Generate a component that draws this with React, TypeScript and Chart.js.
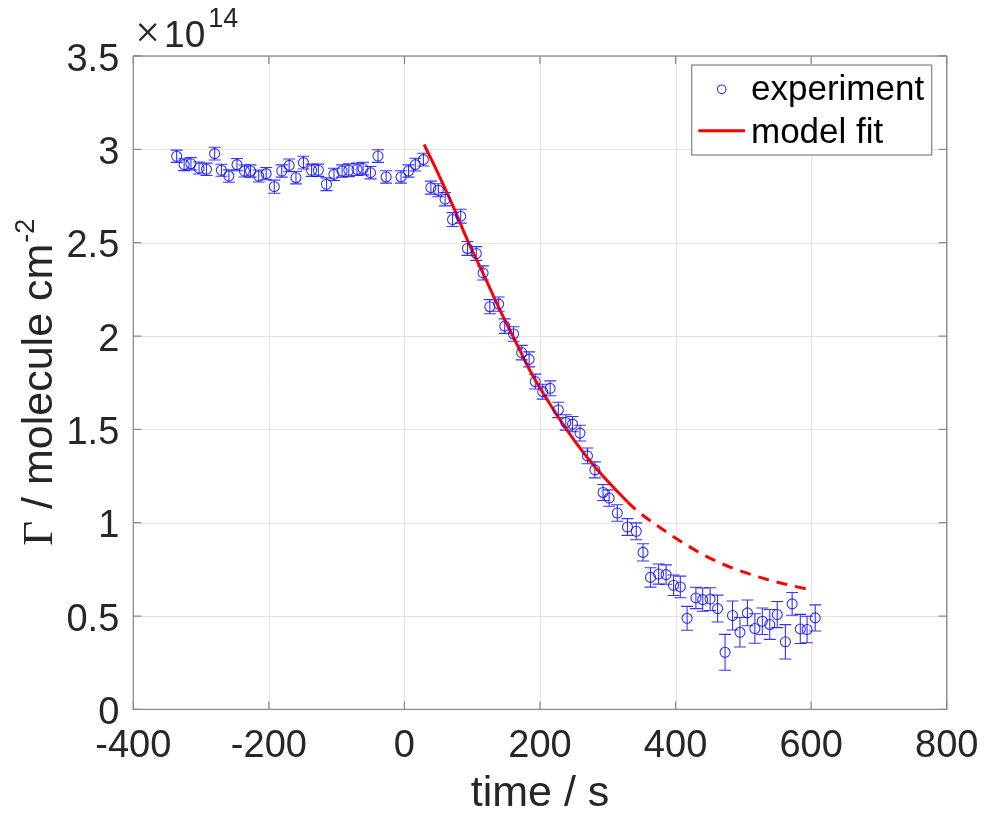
import React, { useEffect, useRef } from "react";
import { Chart, registerables } from "chart.js";

Chart.register(...registerables);

// ---- data ----
const expTime = [
  -336, -325, -315, -303, -292, -280, -270, -259, -247, -236, -227, -215, -204, -192, -181, -170, -160,
  -149, -137, -127, -115, -104, -92, -82, -70, -61, -50, -39, -27, -5, 6, 16, 28,
  39, 50, 60, 71, 83, 93, 106, 116, 126, 139, 148, 161, 173, 184, 193, 204, 215, 227, 238, 248, 259,
  270, 281, 293, 302, 314, 329, 342, 352, 363, 375, 386, 397, 407, 417, 430, 440, 451, 462, 473, 484,
  495, 506, 517, 528, 539, 550, 562, 572, 584, 594, 606,
];
const expValue = [
  2.963, 2.918, 2.923, 2.9, 2.893, 2.977, 2.888, 2.857, 2.918, 2.884, 2.884, 2.857, 2.87, 2.8, 2.884,
  2.914, 2.848, 2.929, 2.888, 2.888, 2.813, 2.866, 2.884, 2.888, 2.893, 2.897, 2.875, 2.964, 2.852,
  2.852, 2.884, 2.918, 2.945,
  2.795, 2.781, 2.733, 2.624, 2.642, 2.469, 2.442, 2.338, 2.157, 2.171, 2.053, 2.011, 1.911, 1.875,
  1.756, 1.702, 1.72, 1.604, 1.537, 1.528, 1.48, 1.358, 1.283, 1.162, 1.132, 1.052, 0.977, 0.954,
  0.841, 0.707, 0.725, 0.722, 0.665, 0.656, 0.488, 0.597, 0.588, 0.591, 0.54, 0.306, 0.503, 0.413,
  0.517, 0.433, 0.472, 0.455, 0.508, 0.362, 0.565, 0.431, 0.428, 0.49,
];
const expError = [
  0.033, 0.032, 0.033, 0.032, 0.033, 0.034, 0.032, 0.033, 0.033, 0.032, 0.033, 0.032, 0.033, 0.035,
  0.033, 0.034, 0.033, 0.034, 0.033, 0.033, 0.034, 0.033, 0.033, 0.034, 0.033, 0.034, 0.033, 0.034,
  0.033, 0.033, 0.033, 0.034, 0.034,
  0.035, 0.035, 0.036, 0.037, 0.037, 0.037, 0.037, 0.038, 0.038, 0.038, 0.039, 0.039, 0.039, 0.04,
  0.04, 0.04, 0.04, 0.041, 0.041, 0.041, 0.042, 0.042, 0.043, 0.043, 0.044, 0.044, 0.045, 0.045,
  0.046, 0.052, 0.054, 0.052, 0.055, 0.058, 0.064, 0.057, 0.062, 0.061, 0.072, 0.096, 0.078, 0.079,
  0.069, 0.079, 0.071, 0.08, 0.07, 0.092, 0.061, 0.078, 0.071, 0.07,
];
const fitTime = [29, 52, 72, 94, 116, 141, 163, 185, 205, 230, 254, 279, 303, 329];
const fitValue = [3.026, 2.853, 2.693, 2.505, 2.336, 2.139, 1.978, 1.817, 1.692, 1.549, 1.424, 1.308, 1.21, 1.112];
const extTime = [329, 342, 397, 414, 439, 466, 488, 538, 598];
const extValue = [1.112, 1.068, 0.925, 0.886, 0.832, 0.784, 0.752, 0.693, 0.641];

const xMin = -400;
const xMax = 800;
const xStep = 200;
const yMin = 0;
const yMax = 3.5;
const yStep = 0.5;
const legendLabels = ["experiment", "model fit"];
const xTitle = "time / s";
const yTitleSymbol = "Γ";
const yTitleText = " / molecule cm";
const yTitleSup = "-2";
const exponentTimes = "×";
const exponentBase = "10";
const exponentPower = "14";

const SANS = '"Liberation Sans", Arial, Helvetica, sans-serif';
const SERIF = '"Liberation Serif", "DejaVu Serif", serif';
const BLUE = "rgba(0,0,255,0.8)";
const RED = "#ff0000";
const AXIS = "#8c8c8c";
const TEXT = "#262626";

const fmt = (v: number) => String(Math.round(v * 100) / 100);

const matlabPlugin = {
  id: "matlabPlugin",
  beforeDatasetsDraw(chart: any) {
    const { ctx, chartArea: a, scales } = chart;
    const x = scales.x;
    const y = scales.y;
    ctx.save();
    // grid
    ctx.strokeStyle = "#e3e3e3";
    ctx.lineWidth = 1;
    x.ticks.forEach((t: any) => {
      const px = Math.round(x.getPixelForValue(t.value)) + 0.5;
      ctx.beginPath();
      ctx.moveTo(px, a.top);
      ctx.lineTo(px, a.bottom);
      ctx.stroke();
    });
    y.ticks.forEach((t: any) => {
      const py = Math.round(y.getPixelForValue(t.value)) + 0.5;
      ctx.beginPath();
      ctx.moveTo(a.left, py);
      ctx.lineTo(a.right, py);
      ctx.stroke();
    });
    // error bars
    ctx.strokeStyle = BLUE;
    ctx.lineWidth = 1.1;
    for (let i = 0; i < expTime.length; i++) {
      const px = x.getPixelForValue(expTime[i]);
      const top = y.getPixelForValue(expValue[i] + expError[i]);
      const bot = y.getPixelForValue(expValue[i] - expError[i]);
      ctx.beginPath();
      ctx.moveTo(px, top);
      ctx.lineTo(px, bot);
      ctx.moveTo(px - 6, top);
      ctx.lineTo(px + 6, top);
      ctx.moveTo(px - 6, bot);
      ctx.lineTo(px + 6, bot);
      ctx.stroke();
    }
    ctx.restore();
  },
  afterDraw(chart: any) {
    const { ctx, chartArea: a, scales } = chart;
    const x = scales.x;
    const y = scales.y;
    ctx.save();
    // box
    ctx.strokeStyle = AXIS;
    ctx.lineWidth = 1.3;
    ctx.strokeRect(a.left, a.top, a.right - a.left, a.bottom - a.top);
    // inward ticks (both sides)
    const tl = 8;
    ctx.beginPath();
    x.ticks.forEach((t: any) => {
      const px = x.getPixelForValue(t.value);
      ctx.moveTo(px, a.bottom);
      ctx.lineTo(px, a.bottom - tl);
      ctx.moveTo(px, a.top);
      ctx.lineTo(px, a.top + tl);
    });
    y.ticks.forEach((t: any) => {
      const py = y.getPixelForValue(t.value);
      ctx.moveTo(a.left, py);
      ctx.lineTo(a.left + tl, py);
      ctx.moveTo(a.right, py);
      ctx.lineTo(a.right - tl, py);
    });
    ctx.stroke();

    // tick labels
    ctx.fillStyle = TEXT;
    ctx.font = `38px ${SANS}`;
    ctx.textBaseline = "alphabetic";
    ctx.textAlign = "center";
    x.ticks.forEach((t: any) => {
      ctx.fillText(fmt(t.value), x.getPixelForValue(t.value), a.bottom + 48);
    });
    ctx.textAlign = "right";
    y.ticks.forEach((t: any) => {
      ctx.fillText(fmt(t.value), a.left - 14, y.getPixelForValue(t.value) + 14.5);
    });

    // exponent
    ctx.textAlign = "left";
    ctx.font = `44px ${SERIF}`;
    ctx.fillText(exponentTimes, a.left + 2, 46.5);
    const wt = ctx.measureText(exponentTimes).width;
    ctx.font = `37px ${SANS}`;
    ctx.fillText(exponentBase, a.left + 6 + wt, 46.5);
    const wb = ctx.measureText(exponentBase).width;
    ctx.font = `27px ${SANS}`;
    ctx.fillText(exponentPower, a.left + 9 + wt + wb, 26.5);

    // x title
    ctx.font = `43px ${SANS}`;
    ctx.textAlign = "center";
    ctx.fillText(xTitle, (a.left + a.right) / 2, 806);

    // y title (rotated)
    ctx.save();
    ctx.translate(52, (a.top + a.bottom) / 2);
    ctx.rotate(-Math.PI / 2);
    ctx.textAlign = "left";
    ctx.font = `43px ${SERIF}`;
    const wg = ctx.measureText(yTitleSymbol).width;
    ctx.font = `43px ${SANS}`;
    const wm = ctx.measureText(yTitleText).width;
    ctx.font = `27px ${SANS}`;
    const ws = ctx.measureText(yTitleSup).width;
    let sx = -(wg + wm + ws) / 2;
    ctx.font = `43px ${SERIF}`;
    ctx.fillText(yTitleSymbol, sx, 0);
    sx += wg;
    ctx.font = `43px ${SANS}`;
    ctx.fillText(yTitleText, sx, 0);
    sx += wm;
    ctx.font = `27px ${SANS}`;
    ctx.fillText(yTitleSup, sx + 1, -18);
    ctx.restore();

    // legend
    const lx = 691.7, ly = 65, lw = 240, lh = 90;
    ctx.fillStyle = "#ffffff";
    ctx.fillRect(lx, ly, lw, lh);
    ctx.strokeStyle = AXIS;
    ctx.lineWidth = 1.3;
    ctx.strokeRect(lx, ly, lw, lh);
    ctx.strokeStyle = BLUE;
    ctx.lineWidth = 1.1;
    ctx.beginPath();
    ctx.arc(721.7, 89.3, 4.3, 0, Math.PI * 2);
    ctx.stroke();
    ctx.strokeStyle = RED;
    ctx.lineWidth = 3;
    ctx.beginPath();
    ctx.moveTo(698.3, 130.7);
    ctx.lineTo(745, 130.7);
    ctx.stroke();
    ctx.fillStyle = "#000000";
    ctx.font = `35px ${SANS}`;
    ctx.textAlign = "left";
    ctx.fillText(legendLabels[0], 751, 99.5);
    ctx.fillText(legendLabels[1], 751, 142.8);
    ctx.restore();
  },
};

export default function App() {
  const ref = useRef<HTMLCanvasElement | null>(null);
  useEffect(() => {
    if (!ref.current) return;
    const chart = new Chart(ref.current, {
      type: "scatter",
      data: {
        datasets: [
          {
            label: legendLabels[0],
            data: expTime.map((t, i) => ({ x: t, y: expValue[i] })),
            pointStyle: "circle",
            pointRadius: 5,
            pointBorderWidth: 1.1,
            pointBorderColor: BLUE,
            pointBackgroundColor: "rgba(0,0,0,0)",
            showLine: false,
          },
          {
            label: legendLabels[1],
            data: fitTime.map((t, i) => ({ x: t, y: fitValue[i] })),
            showLine: true,
            borderColor: RED,
            borderWidth: 3,
            pointRadius: 0,
            cubicInterpolationMode: "monotone",
          },
          {
            label: "extrapolation",
            data: extTime.map((t, i) => ({ x: t, y: extValue[i] })),
            showLine: true,
            borderColor: RED,
            borderWidth: 3,
            borderDash: [11, 8],
            pointRadius: 0,
            cubicInterpolationMode: "monotone",
          },
        ],
      },
      options: {
        animation: false,
        responsive: false,
        maintainAspectRatio: false,
        layout: { padding: { top: 56, right: 37.3, left: 0, bottom: 0 } },
        plugins: { legend: { display: false }, tooltip: { enabled: false } },
        scales: {
          x: {
            type: "linear",
            min: xMin,
            max: xMax,
            ticks: { display: false, stepSize: xStep },
            grid: { display: false },
            border: { display: false },
            afterFit: (s: any) => {
              s.height = 106.6;
            },
          },
          y: {
            type: "linear",
            min: yMin,
            max: yMax,
            ticks: { display: false, stepSize: yStep },
            grid: { display: false },
            border: { display: false },
            afterFit: (s: any) => {
              s.width = 133.3;
            },
          },
        },
      },
      plugins: [matlabPlugin],
    } as any);
    return () => chart.destroy();
  }, []);
  return (
    <div style={{ position: "fixed", left: 0, top: 0, width: 984, height: 816, background: "#fff" }}>
      <canvas ref={ref} width={984} height={816} style={{ width: 984, height: 816 }} />
    </div>
  );
}
